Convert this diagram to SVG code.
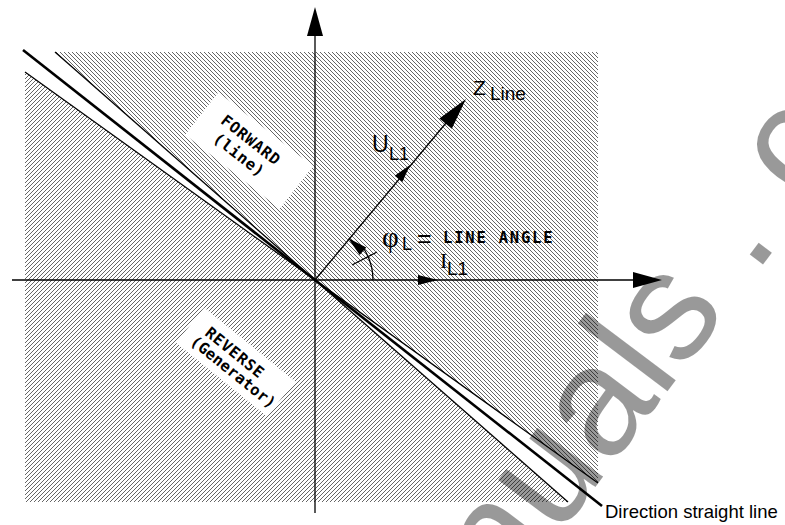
<svg xmlns="http://www.w3.org/2000/svg" width="785" height="525" viewBox="0 0 785 525">
<style>
.ln{stroke:#000;fill:none;stroke-width:1.3}
.thick{stroke:#000;fill:none;stroke-width:2.6}
.ah{fill:#000;stroke:none}
.mono{font-family:"DejaVu Sans Mono","Liberation Mono",monospace;font-weight:bold;font-size:15.5px;fill:#000}
.sans{font-family:"Liberation Sans",Arial,sans-serif;fill:#000}
.serif{font-family:"Liberation Serif","Times New Roman",serif;fill:#000}
.box{fill:#fff;stroke:none}
</style>
<defs>
<pattern id="hF" width="4" height="4" patternUnits="userSpaceOnUse"><path d="M-1,3 L1,5 M0,0 L4,4 M3,-1 L5,1" stroke="#555" stroke-width="0.9"/></pattern>
<pattern id="hR" width="4" height="4" patternUnits="userSpaceOnUse"><path d="M-1,1 L1,-1 M0,4 L4,0 M3,5 L5,3" stroke="#555" stroke-width="0.9"/></pattern>
</defs>
<rect width="785" height="525" fill="#fff"/>
<g id="regions">
<polygon id="forward-area" points="55,52 598,52 598,483 315,280" fill="url(#hF)"/>
<polygon id="reverse-area" points="25,72 315,280 568,502 25,502" fill="url(#hR)"/>
</g>
<g id="forward-label" transform="translate(247.6,144.3) rotate(38)">
<rect class="box" x="-55" y="-23" width="120" height="54"/>
<text class="mono" x="0" y="0" text-anchor="middle" letter-spacing="0.8">FORWARD</text>
<text class="mono" x="0" y="19" text-anchor="middle" letter-spacing="0.8">(line)</text>
</g>
<g id="reverse-label" transform="translate(231.5,356.8) rotate(39)">
<rect class="box" x="-52" y="-21" width="117" height="45"/>
<text class="mono" x="0" y="0" text-anchor="middle" letter-spacing="0.8">REVERSE</text>
<text class="mono" x="11" y="16" text-anchor="middle" letter-spacing="0.2">(Generator)</text>
</g>
<g id="connectors">
<line class="ln" x1="55" y1="52" x2="568" y2="502"/>
<line class="ln" x1="25" y1="72" x2="598" y2="483"/>
<line class="thick" x1="23" y1="50" x2="602" y2="506"/>
<line class="ln" x1="315" y1="35" x2="315" y2="513"/>
<polygon class="ah" points="315,7 307,36 323,36"/>
<line class="ln" x1="12" y1="280" x2="634" y2="280"/>
<polygon class="ah" points="662,280 633,272 633,288"/>
<line class="ln" x1="315" y1="280" x2="446" y2="123"/>
<polygon class="ah" points="466,99 451.8,128.7 439.4,118.5"/>
<polygon class="ah" points="410,165 402.4,182.1 394.7,175.7"/>
<polygon class="ah" points="438,280 418,275 418,285"/>
<path class="ln" d="M373,280 A58,58 0 0 0 364,249"/>
<polygon class="ah" points="348,238 366.3,247.5 359.7,255"/>
<line class="ln" x1="352" y1="265" x2="377" y2="252"/>
</g>
<g id="labels">
<text class="sans" x="473" y="95" font-size="21">Z</text>
<text class="sans" x="490" y="100" font-size="19">Line</text>
<text class="sans" x="372" y="152" font-size="23">U</text>
<text class="sans" x="389" y="160" font-size="18">L1</text>
<text class="serif" x="382" y="247" font-size="29">φ</text>
<text class="sans" x="402" y="250" font-size="18">L</text>
<text class="sans" x="417" y="247" font-size="25">=</text>
<text class="mono" x="443" y="243" letter-spacing="1.8">LINE ANGLE</text>
<text class="serif" x="440" y="268" font-size="22">I</text>
<text class="sans" x="447" y="275" font-size="19">L1</text>
<text class="sans" x="605" y="518" font-size="18.5">Direction straight line</text>
</g>
<g id="watermark">
<text class="sans" transform="translate(376,778) rotate(-53)" font-size="155" fill="#000" fill-opacity="0.4">manuals . com</text>
</g>
</svg>
